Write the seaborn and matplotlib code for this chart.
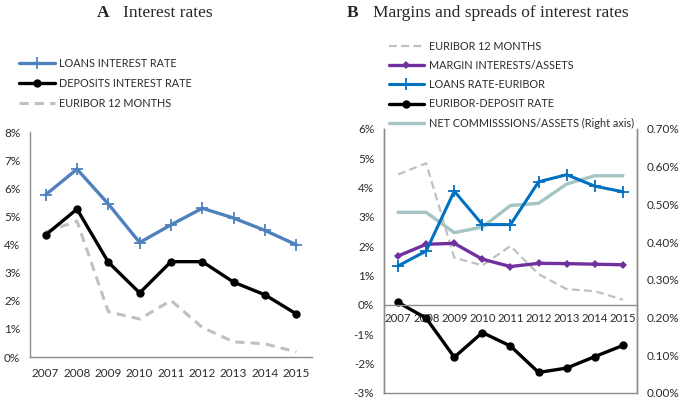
import matplotlib
matplotlib.use("Agg")
import matplotlib.pyplot as plt
import seaborn as sns
import numpy as np

# data (percent)
years = ["2007", "2008", "2009", "2010", "2011", "2012", "2013", "2014", "2015"]
loans_rate = [5.77, 6.68, 5.44, 4.07, 4.70, 5.29, 4.94, 4.50, 3.99]
deposits_rate = [4.34, 5.26, 3.37, 2.28, 3.39, 3.39, 2.66, 2.21, 1.53]
euribor_12m = [4.45, 4.83, 1.61, 1.35, 2.01, 1.05, 0.54, 0.47, 0.18]
margin_assets = [1.67, 2.07, 2.10, 1.56, 1.31, 1.42, 1.41, 1.39, 1.37]
loans_minus_euribor = [1.33, 1.84, 3.88, 2.74, 2.74, 4.20, 4.44, 4.05, 3.86]
euribor_minus_deposit = [0.09, -0.45, -1.78, -0.94, -1.40, -2.30, -2.15, -1.76, -1.38]
commissions_assets = [0.479, 0.479, 0.425, 0.440, 0.497, 0.503, 0.554, 0.576, 0.576]

sns.set_style("white")
plt.rcParams["font.family"] = ["Lato", "DejaVu Sans"]

BLUE_A = "#4F81BD"
GREY = "#C0C0C0"
PURPLE = "#7030A0"
BLUE_B = "#0070C0"
TEAL = "#A5C5C5"
SPINE = "#8C8C8C"
TXT = "#2b2b2b"
TICK_FS = 8.5
LEG_FS = 7.8

x = np.arange(len(years))
fig = plt.figure(figsize=(6.85, 4.01), dpi=100)

# ---- panel A ----
axA = fig.add_axes([0.0438, 0.1097, 0.4117, 0.5611])
sns.lineplot(x=x, y=euribor_12m, ax=axA, color=GREY, linewidth=2.2,
             linestyle=(0, (3, 2)), label="EURIBOR 12 MONTHS")
sns.lineplot(x=x, y=deposits_rate, ax=axA, color="black", linewidth=2.4,
             marker="o", markersize=6, markeredgecolor="black", markeredgewidth=0,
             label="DEPOSITS INTEREST RATE")
sns.lineplot(x=x, y=loans_rate, ax=axA, color=BLUE_A, linewidth=2.4,
             marker="+", markersize=8, markeredgecolor=BLUE_A, markeredgewidth=1.3,
             label="LOANS INTEREST RATE")
axA.set_xlim(-0.5, 8.5)
axA.set_ylim(0, 8)
axA.set_yticks(range(0, 9))
axA.set_yticklabels([f"{v}%" for v in range(0, 9)])
axA.set_xticks(x)
axA.set_xticklabels(years)
for s in ["top", "right"]:
    axA.spines[s].set_visible(False)
for s in ["left", "bottom"]:
    axA.spines[s].set_color(SPINE)
    axA.spines[s].set_linewidth(1)
axA.tick_params(axis="both", length=0, labelsize=TICK_FS, colors=TXT)
axA.tick_params(axis="x", pad=8)
axA.tick_params(axis="y", pad=7)
h, l = axA.get_legend_handles_labels()
axA.get_legend().remove()
fig.legend(h[::-1], l[::-1], loc="upper left", bbox_to_anchor=(0.014, 0.88),
           frameon=False, fontsize=LEG_FS, handlelength=3.3, labelspacing=0.85,
           handletextpad=0.4, labelcolor=TXT)

fig.text(0.141, 0.968, "A", fontfamily="Liberation Serif", fontweight="bold",
         fontsize=12.5, va="center")
fig.text(0.18, 0.968, "Interest rates", fontfamily="Liberation Serif",
         fontsize=12.5, va="center")

# ---- panel B ----
axB = fig.add_axes([0.5606, 0.0200, 0.3693, 0.6584])
axR = axB.twinx()
sns.lineplot(x=x, y=commissions_assets, ax=axR, color=TEAL, linewidth=2.4,
             label="NET COMMISSSIONS/ASSETS (Right axis)")
sns.lineplot(x=x, y=euribor_12m, ax=axB, color=GREY, linewidth=1.6,
             linestyle=(0, (3.5, 2)), label="EURIBOR 12 MONTHS")
sns.lineplot(x=x, y=margin_assets, ax=axB, color=PURPLE, linewidth=2.4,
             marker="D", markersize=4.5, markeredgecolor=PURPLE, markeredgewidth=0,
             label="MARGIN INTERESTS/ASSETS")
sns.lineplot(x=x, y=loans_minus_euribor, ax=axB, color=BLUE_B, linewidth=2.2,
             marker="+", markersize=8, markeredgecolor=BLUE_B, markeredgewidth=1.3,
             label="LOANS RATE-EURIBOR")
sns.lineplot(x=x, y=euribor_minus_deposit, ax=axB, color="black", linewidth=2.4,
             marker="o", markersize=6, markeredgecolor="black", markeredgewidth=0,
             label="EURIBOR-DEPOSIT RATE")
axB.set_zorder(axR.get_zorder() + 1)
axB.patch.set_visible(False)

axB.set_xlim(-0.5, 8.5)
axB.set_ylim(-3, 6)
axB.set_yticks(range(-3, 7))
axB.set_yticklabels([f"{v}%" for v in range(-3, 7)])
axB.set_xticks(x)
axB.set_xticklabels(years)
axR.set_ylim(0, 0.7)
axR.set_yticks(np.arange(0, 0.71, 0.1))
axR.set_yticklabels([f"{v:.2f}%" for v in np.arange(0, 0.71, 0.1)])
axB.spines["bottom"].set_position(("data", 0))
for a in (axB, axR):
    a.spines["top"].set_visible(False)
    for s in ["left", "right", "bottom"]:
        a.spines[s].set_color(SPINE)
        a.spines[s].set_linewidth(1)
    a.tick_params(axis="both", length=0, labelsize=TICK_FS, colors=TXT)
    a.set_ylabel("")
axB.tick_params(axis="x", pad=6, labelsize=8.2)
axB.tick_params(axis="y", pad=7)
axR.tick_params(axis="y", pad=7)

hB, lB = axB.get_legend_handles_labels()
hR, lR = axR.get_legend_handles_labels()
axB.get_legend().remove()
axR.get_legend().remove()
fig.legend(hB + hR, lB + lR, loc="upper left", bbox_to_anchor=(0.553, 0.922),
           frameon=False, fontsize=LEG_FS, handlelength=3.3, labelspacing=0.75,
           handletextpad=0.4, labelcolor=TXT)

fig.text(0.506, 0.967, "B", fontfamily="Liberation Serif", fontweight="bold",
         fontsize=12.5, va="center")
fig.text(0.545, 0.967, "Margins and spreads of interest rates", fontfamily="Liberation Serif",
         fontsize=12.5, va="center")

fig.savefig("out.png", dpi=100)
